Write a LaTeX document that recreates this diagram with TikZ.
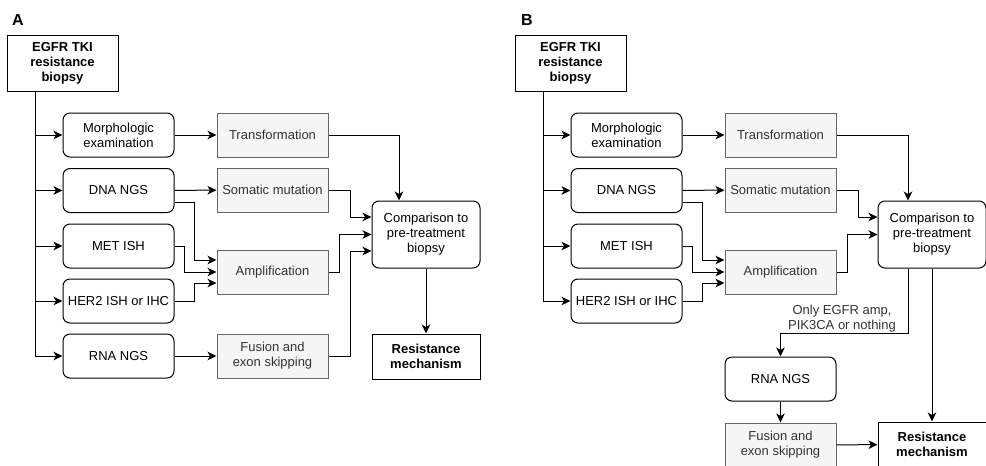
\documentclass[tikz,border=0pt]{standalone}
\usepackage{fontspec}
\setmainfont{Liberation Sans}
\usetikzlibrary{arrows.meta,positioning,calc}

\definecolor{boxgrey}{HTML}{F5F5F5}
\definecolor{linegrey}{HTML}{666666}
\definecolor{textgrey}{HTML}{333333}

\begin{document}
\begin{tikzpicture}[
    x=1pt, y=-1pt,
    >={Stealth[length=9pt,width=8.5pt,inset=2.5pt]}, % arrow tips
    line width=1pt,
    font=\fontsize{13}{15}\selectfont,
    startbox/.style={draw, minimum width=111pt, minimum height=56pt, align=center, inner sep=2pt,
                     font=\fontsize{13}{15}\selectfont\bfseries},
    testbox/.style={draw, rounded corners=7pt, minimum width=111pt, minimum height=44pt, align=center, inner sep=2pt},
    findbox/.style={draw=linegrey, fill=boxgrey, text=textgrey, minimum width=111pt, minimum height=44pt,
                    align=center, inner sep=2pt},
    compbox/.style={testbox, minimum width=108pt, minimum height=67pt},
    resbox/.style={draw, minimum width=108pt, minimum height=45pt, align=center, inner sep=2pt,
                   font=\fontsize{13}{15}\selectfont\bfseries},
    panel/.style={font=\fontsize{16}{18}\selectfont\bfseries}
]

    % --- page frame ---
    \useasboundingbox (0,0) rectangle (986,466);

    % ===== panel A =====
    \node[panel] (labA) at (18,19.5) {A};

    % --- left column ---
    \node[startbox] (egfrA) at (62.5,63) {EGFR TKI\\resistance\\biopsy};
    \node[testbox] (morphA) at (118.5,135) {Morphologic\\examination};
    \node[testbox] (dnaA) at (118.5,190.5) {DNA NGS};
    \node[testbox] (metA) at (118.5,246) {MET ISH};
    \node[testbox] (her2A) at (118.5,301) {HER2 ISH or IHC};
    \node[testbox] (rnaA) at (118.5,356) {RNA NGS};

    % --- findings ---
    \node[findbox] (transA) at (272.5,135) {Transformation};
    \node[findbox] (somaA) at (272.5,190) {Somatic mutation};
    \node[findbox] (amplA) at (272.5,272) {Amplification};
    \node[findbox] (fusA) at (272.5,356) {Fusion and\\exon skipping};

    % --- comparison and result ---
    \node[compbox] (compA) at (426,234.5) {Comparison to\\pre-treatment\\biopsy};
    \node[resbox] (resA) at (426,356.5) {Resistance\\mechanism};

    % --- connectors ---
    \draw[->] ([xshift=-27.5pt]egfrA.south) |- (morphA);
    \draw[->] ([xshift=-27.5pt]egfrA.south) |- (dnaA);
    \draw[->] ([xshift=-27.5pt]egfrA.south) |- (metA);
    \draw[->] ([xshift=-27.5pt]egfrA.south) |- (her2A);
    \draw[->] ([xshift=-27.5pt]egfrA.south) |- (rnaA);

    \draw[->] (morphA) -- (transA);
    \draw[->] (dnaA) -- (somaA);
    \draw[->] (rnaA) -- (fusA);

    \draw[->] ([yshift=-11.5pt]dnaA.east) -- ++(20,0) |- ([yshift=12pt]amplA.west);
    \draw[->] (metA.east) -- ++(10,0) |- (amplA.west);
    \draw[->] (her2A.east) -- ++(20,0) |- ([yshift=-11pt]amplA.west);

    \draw[->] (transA) -| ([xshift=-27pt]compA.north);
    \draw[->] (somaA.east) -- ++(22,0) |- ([yshift=17.5pt]compA.west);
    \draw[->] (amplA.east) -- ++(11,0) |- (compA.west);
    \draw[->] (fusA.east) -- ++(22,0) |- ([yshift=-16.5pt]compA.west);

    \draw[->] (compA) -- (resA);

    % ===== panel B =====
    \node[panel] (labB) at (527,19.5) {B};

    % --- left column ---
    \node[startbox] (egfrB) at (570.5,63) {EGFR TKI\\resistance\\biopsy};
    \node[testbox] (morphB) at (626.5,135) {Morphologic\\examination};
    \node[testbox] (dnaB) at (626.5,190.5) {DNA NGS};
    \node[testbox] (metB) at (626.5,246) {MET ISH};
    \node[testbox] (her2B) at (626.5,301) {HER2 ISH or IHC};

    % --- findings ---
    \node[findbox] (transB) at (780.5,135) {Transformation};
    \node[findbox] (somaB) at (780.5,190) {Somatic mutation};
    \node[findbox] (amplB) at (780.5,272) {Amplification};

    % --- comparison, second step and result ---
    \node[compbox] (compB) at (932,234.5) {Comparison to\\pre-treatment\\biopsy};
    \node[testbox] (rnaB) at (780.5,379) {RNA NGS};
    \node[findbox] (fusB) at (780.5,445) {Fusion and\\exon skipping};
    \node[resbox] (resB) at (932,444.5) {Resistance\\mechanism};
    \node[text=textgrey, align=center] (onlyB) at (842,319) {Only EGFR amp,\\PIK3CA or nothing};

    % --- connectors ---
    \draw[->] ([xshift=-27.5pt]egfrB.south) |- (morphB);
    \draw[->] ([xshift=-27.5pt]egfrB.south) |- (dnaB);
    \draw[->] ([xshift=-27.5pt]egfrB.south) |- (metB);
    \draw[->] ([xshift=-27.5pt]egfrB.south) |- (her2B);

    \draw[->] (morphB) -- (transB);
    \draw[->] (dnaB) -- (somaB);

    \draw[->] ([yshift=-11.5pt]dnaB.east) -- ++(20,0) |- ([yshift=12pt]amplB.west);
    \draw[->] (metB.east) -- ++(10,0) |- (amplB.west);
    \draw[->] (her2B.east) -- ++(20,0) |- ([yshift=-11pt]amplB.west);

    \draw[->] (transB) -| ([xshift=-24pt]compB.north);
    \draw[->] (somaB.east) -- ++(22,0) |- ([yshift=17.5pt]compB.west);
    \draw[->] (amplB.east) -- ++(11,0) |- (compB.west);

    \draw[->] ([xshift=-24pt]compB.south) -- ++(0,65) -| (rnaB);
    \draw[->] (compB) -- (resB);
    \draw[->] (rnaB) -- (fusB);
    \draw[->] (fusB) -- (resB);
\end{tikzpicture}
\end{document}
